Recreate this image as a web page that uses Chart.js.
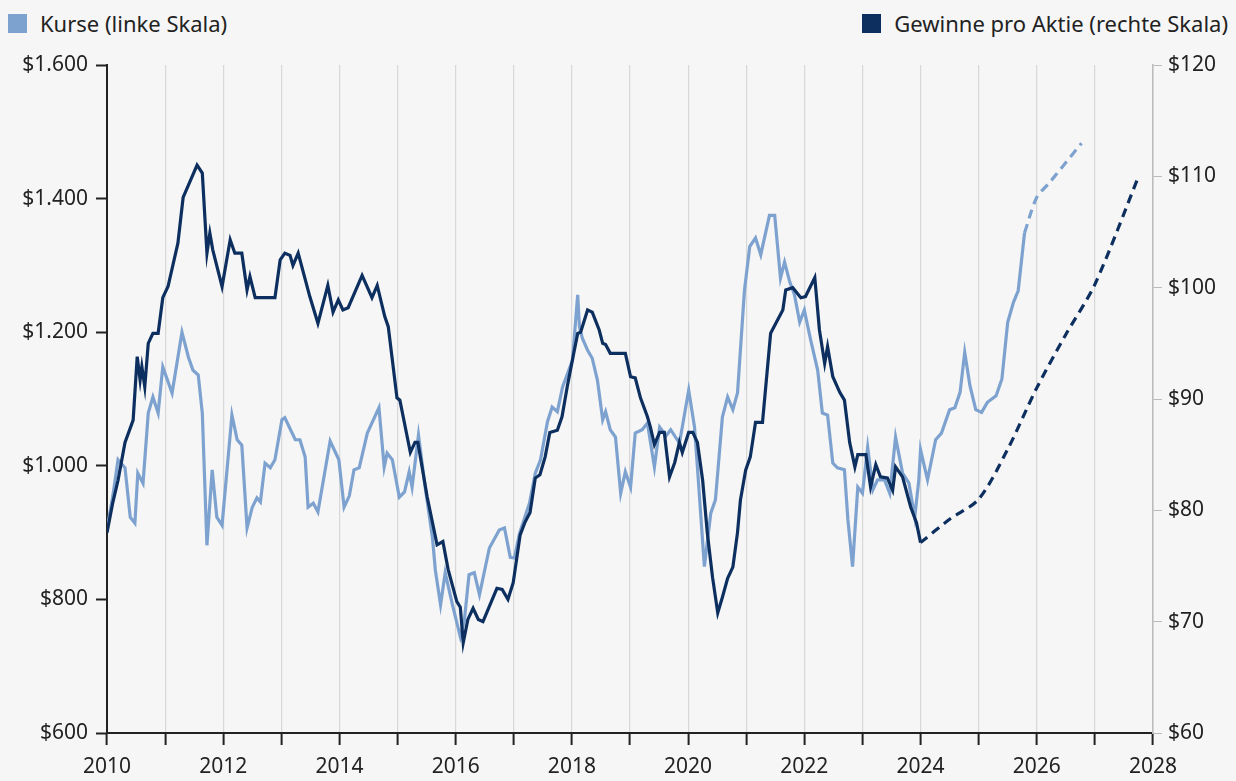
<!DOCTYPE html>
<html lang="de">
<head>
<meta charset="utf-8">
<title>Kurse und Gewinne pro Aktie</title>
<script src="https://cdn.jsdelivr.net/npm/chart.js@4.4.1/dist/chart.umd.min.js"></script>
<style>
    html, body { margin: 0; padding: 0; background: #f6f6f6; }
    body { width: 1236px; height: 781px; position: relative; overflow: hidden; font-family: "Noto Sans", "Open Sans", sans-serif; color: #222; }
    .legende { position: absolute; top: 9px; font-size: 22px; line-height: 28px; display: flex; align-items: center; }
    .legende span.box { display: inline-block; width: 19px; height: 19px; margin-right: 13px; }
    #legKurse { left: 8px; }
    #legGewinne { right: 8px; }
    #wrap { position: absolute; left: 0; top: 0; width: 1236px; height: 781px; }
</style>
</head>
<body>
<div class="legende" id="legKurse"><span class="box" style="background:#7ea2cf"></span>Kurse (linke Skala)</div>
<div class="legende" id="legGewinne"><span class="box" style="background:#0d2f5f"></span>Gewinne pro Aktie (rechte Skala)</div>
<div id="wrap"><canvas id="chart"></canvas></div>
<script>
// Kurse (linke Skala)
const kurseJahre = [2010.00, 2010.10, 2010.19, 2010.31, 2010.40, 2010.48, 2010.53, 2010.62, 2010.71, 2010.79, 2010.88, 2010.96,
    2011.12, 2011.29, 2011.40, 2011.48, 2011.57, 2011.64, 2011.72, 2011.81, 2011.89, 2011.98,
    2012.15, 2012.24, 2012.32, 2012.41, 2012.50, 2012.58, 2012.64, 2012.72, 2012.81, 2012.89,
    2013.01, 2013.06, 2013.24, 2013.32, 2013.41, 2013.46, 2013.55, 2013.63, 2013.84, 2013.99,
    2014.08, 2014.17, 2014.25, 2014.34, 2014.48, 2014.68, 2014.77, 2014.82, 2014.91,
    2015.03, 2015.12, 2015.20, 2015.25, 2015.36, 2015.48, 2015.60, 2015.65, 2015.74, 2015.82, 2015.95,
    2016.08, 2016.15, 2016.23, 2016.32, 2016.41, 2016.58, 2016.75, 2016.84, 2016.94,
    2017.01, 2017.10, 2017.27, 2017.37, 2017.46, 2017.58, 2017.66, 2017.75, 2017.84,
    2018.01, 2018.10, 2018.13, 2018.18, 2018.27, 2018.35, 2018.44, 2018.53, 2018.58, 2018.66, 2018.75, 2018.84, 2018.92,
    2019.01, 2019.09, 2019.21, 2019.30, 2019.42, 2019.51, 2019.62, 2019.70, 2019.85, 2019.90,
    2020.01, 2020.11, 2020.16, 2020.28, 2020.39, 2020.47, 2020.59, 2020.68, 2020.77, 2020.85, 2020.97,
    2021.06, 2021.16, 2021.25, 2021.40, 2021.49, 2021.59, 2021.66, 2021.75, 2021.83, 2021.92,
    2022.00, 2022.11, 2022.23, 2022.31, 2022.40, 2022.49, 2022.57, 2022.69, 2022.75, 2022.83, 2022.92,
    2023.00, 2023.09, 2023.18, 2023.26, 2023.38, 2023.47, 2023.57, 2023.69, 2023.80, 2023.90, 2023.97,
    2024.00, 2024.12, 2024.26, 2024.36, 2024.50, 2024.59, 2024.68, 2024.76, 2024.85, 2024.95,
    2025.05, 2025.15, 2025.30, 2025.40, 2025.50, 2025.60, 2025.68, 2025.79];
const kurseWerte = [905, 955, 1009, 997, 923, 914, 989, 974, 1079, 1103, 1079, 1148,
    1109, 1200, 1163, 1143, 1136, 1079, 881, 994, 923, 911,
    1076, 1039, 1031, 907, 938, 952, 946, 1004, 997, 1009,
    1069, 1072, 1039, 1039, 1013, 938, 944, 931, 1037, 1009,
    938, 955, 994, 997, 1049, 1087, 998, 1019, 1009,
    953, 961, 991, 968, 1046, 965, 893, 844, 792, 840, 790,
    744, 769, 837, 840, 807, 877, 904, 907, 863,
    862, 899, 944, 989, 1009, 1066, 1088, 1081, 1118,
    1158, 1256, 1208, 1191, 1173, 1161, 1128, 1069, 1081, 1054, 1043, 959, 991,
    968, 1049, 1054, 1064, 998, 1058, 1045, 1054, 1034, 1058,
    1113, 1058, 998, 849, 929, 949, 1073, 1103, 1084, 1109, 1263,
    1328, 1341, 1316, 1375, 1375, 1281, 1305, 1275, 1256, 1215,
    1233, 1188, 1143, 1079, 1076, 1004, 997, 994, 919, 849, 968,
    959, 1028, 964, 979, 979, 959, 1043, 989, 974, 923, 979,
    1024, 979, 1039, 1049, 1084, 1087, 1110, 1170, 1120, 1084,
    1080, 1095, 1105, 1130, 1215, 1245, 1262, 1349];
const kursePrognoseJahre = [2025.79, 2026.00, 2026.21, 2026.77];
const kursePrognoseWerte = [1349, 1402, 1423, 1483];

// Gewinne pro Aktie (rechte Skala)
const gewinnJahre = [2010.00, 2010.10, 2010.19, 2010.31, 2010.45, 2010.52, 2010.57, 2010.60, 2010.65, 2010.71, 2010.79, 2010.88, 2010.96,
    2011.05, 2011.22, 2011.31, 2011.55, 2011.64, 2011.72, 2011.77, 2011.82, 2011.98,
    2012.12, 2012.20, 2012.32, 2012.41, 2012.46, 2012.55, 2012.89, 2012.98,
    2013.06, 2013.15, 2013.20, 2013.29, 2013.49, 2013.63, 2013.80, 2013.89, 2013.98,
    2014.06, 2014.15, 2014.39, 2014.56, 2014.65, 2014.78, 2014.84, 2014.99,
    2015.04, 2015.22, 2015.30, 2015.35, 2015.51, 2015.68, 2015.78, 2015.87,
    2016.02, 2016.08, 2016.13, 2016.21, 2016.30, 2016.39, 2016.47, 2016.71, 2016.80, 2016.90, 2016.99,
    2017.11, 2017.19, 2017.28, 2017.37, 2017.45, 2017.54, 2017.62, 2017.75, 2017.83, 2017.92,
    2018.02, 2018.10, 2018.15, 2018.27, 2018.35, 2018.47, 2018.53, 2018.58, 2018.66, 2018.92,
    2019.01, 2019.09, 2019.18, 2019.30, 2019.35, 2019.42, 2019.51, 2019.59, 2019.68, 2019.77, 2019.85, 2019.90,
    2020.01, 2020.08, 2020.16, 2020.25, 2020.33, 2020.42, 2020.51, 2020.59, 2020.68, 2020.77, 2020.85, 2020.90, 2020.99,
    2021.07, 2021.16, 2021.28, 2021.42, 2021.51, 2021.63, 2021.68, 2021.80, 2021.94,
    2022.02, 2022.18, 2022.26, 2022.35, 2022.40, 2022.49, 2022.61, 2022.69, 2022.78, 2022.87, 2022.92,
    2023.06, 2023.14, 2023.23, 2023.31, 2023.43, 2023.52, 2023.57, 2023.69, 2023.83, 2023.93, 2024.00];
const gewinnWerte = [78.0, 80.7, 82.7, 86.1, 88.1, 93.8, 91.7, 92.9, 91.1, 95.0, 95.9, 95.9, 99.1,
    100.1, 104.0, 108.1, 111.0, 110.3, 103.1, 104.9, 103.4, 100.1,
    104.3, 103.1, 103.1, 99.8, 101.0, 99.1, 99.1, 102.5,
    103.1, 102.9, 102.0, 103.1, 99.2, 96.8, 100.2, 97.8, 98.9,
    98.0, 98.2, 101.1, 99.1, 100.2, 97.4, 96.5, 90.1,
    89.9, 85.2, 86.1, 86.1, 81.2, 76.9, 77.2, 74.7,
    71.8, 71.3, 68.1, 70.2, 71.2, 70.2, 70.0, 73.0, 72.9, 72.0, 73.5,
    77.8, 78.9, 79.8, 82.9, 83.2, 84.8, 87.0, 87.2, 88.4, 91.1,
    93.8, 95.9, 96.0, 98.0, 97.8, 96.2, 95.0, 94.9, 94.1, 94.1,
    92.0, 91.9, 90.1, 88.4, 87.5, 85.9, 87.0, 87.0, 83.0, 84.3, 86.1, 85.2,
    87.0, 87.0, 86.1, 82.7, 78.0, 74.0, 70.8, 72.2, 73.9, 74.9, 78.0, 80.9, 83.6,
    84.8, 87.9, 87.9, 95.9, 96.8, 98.0, 99.8, 100.0, 99.1,
    99.2, 100.9, 96.2, 93.2, 94.7, 92.0, 90.6, 89.9, 86.1, 83.9, 85.0,
    85.0, 82.1, 84.1, 83.0, 82.9, 81.8, 83.9, 83.0, 80.3, 78.9, 77.1];
const gewinnPrognoseJahre = [2024.00, 2024.50, 2025.00, 2025.50, 2026.00, 2026.50, 2027.00, 2027.76];
const gewinnPrognoseWerte = [77.1, 79.2, 81.0, 85.5, 91.0, 95.8, 100.3, 110.1];

const linksTicks = [600, 800, 1000, 1200, 1400, 1600];
const rechtsTicks = [60, 70, 80, 90, 100, 110, 120];

const hell = '#7ea2cf';
const dunkel = '#0d2f5f';

function punkte(jahre, werte) {
    return jahre.map((j, i) => ({ x: j, y: werte[i] }));
}

function dollar(v) {
    // Tausenderpunkt wie im Original
    return '$' + String(v).replace(/\B(?=(\d{3})+(?!\d))/g, '.');
}

const schrift = { family: '"Noto Sans", "Open Sans", sans-serif', size: 21 };

new Chart(document.getElementById('chart'), {
    type: 'line',
    data: {
        datasets: [
            { label: 'Kurse', data: punkte(kurseJahre, kurseWerte), yAxisID: 'y', borderColor: hell, borderWidth: 3.2, pointRadius: 0, tension: 0, order: 4 },
            { label: 'Kurse Prognose', data: punkte(kursePrognoseJahre, kursePrognoseWerte), yAxisID: 'y', borderColor: hell, borderWidth: 3.2, borderDash: [9, 6], pointRadius: 0, tension: 0.3, order: 3 },
            { label: 'Gewinne', data: punkte(gewinnJahre, gewinnWerte), yAxisID: 'y1', borderColor: dunkel, borderWidth: 3.2, pointRadius: 0, tension: 0, order: 2 },
            { label: 'Gewinne Prognose', data: punkte(gewinnPrognoseJahre, gewinnPrognoseWerte), yAxisID: 'y1', borderColor: dunkel, borderWidth: 3.2, borderDash: [9, 6], pointRadius: 0, tension: 0.3, order: 1 }
        ]
    },
    options: {
        responsive: true,
        maintainAspectRatio: false,
        animation: false,
        layout: { padding: { top: 65, left: 0, right: 0, bottom: 0 } },
        plugins: { legend: { display: false }, tooltip: { enabled: false } },
        scales: {
            x: {
                type: 'linear',
                min: 2010,
                max: 2028,
                afterFit: function(scale) { scale.height = 48; },
                ticks: {
                    stepSize: 1,
                    autoSkip: false,
                    maxRotation: 0,
                    color: '#222',
                    font: schrift,
                    padding: 9,
                    callback: function(v) { return v % 2 === 0 ? String(v) : ''; }
                },
                grid: { color: '#d8d8d8', lineWidth: 1.2, tickColor: '#222', tickLength: 12, tickWidth: 2 },
                border: { color: '#222', width: 2 }
            },
            y: {
                position: 'left',
                min: 600,
                max: 1600,
                afterFit: function(scale) { scale.width = 107; },
                afterBuildTicks: function(scale) { scale.ticks = linksTicks.map(v => ({ value: v })); },
                ticks: { color: '#222', font: schrift, padding: 8, callback: function(v) { return dollar(v); } },
                grid: { drawOnChartArea: false, tickColor: '#222', tickLength: 11, tickWidth: 2 },
                border: { color: '#222', width: 2 }
            },
            y1: {
                position: 'right',
                min: 60,
                max: 120,
                afterFit: function(scale) { scale.width = 83; },
                afterBuildTicks: function(scale) { scale.ticks = rechtsTicks.map(v => ({ value: v })); },
                ticks: { color: '#222', font: schrift, padding: 6, callback: function(v) { return '$' + v; } },
                grid: { drawOnChartArea: false, tickColor: '#bbb', tickLength: 9, tickWidth: 1 },
                border: { color: '#bbb', width: 1.5 }
            }
        }
    }
});
</script>
</body>
</html>
